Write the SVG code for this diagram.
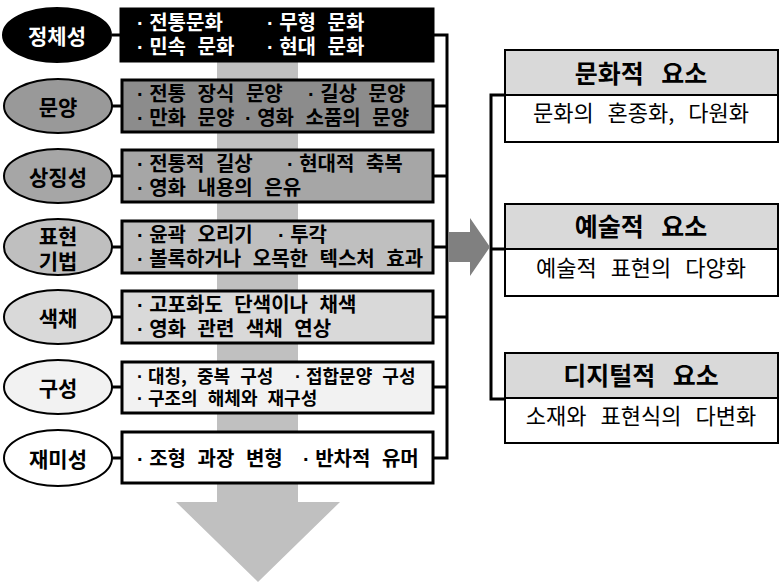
<svg xmlns="http://www.w3.org/2000/svg" width="784" height="586" viewBox="0 0 784 586">
<style>
.ell{stroke:#000;stroke-width:2}
.box{stroke:#000;stroke-width:3}
.lbl{font-family:"Noto Sans CJK KR","Noto Sans",sans-serif;font-weight:bold;font-size:21px;text-anchor:middle;dominant-baseline:central}
.item{font-family:"Noto Sans CJK KR","Noto Sans",sans-serif;font-weight:bold;font-size:20px;word-spacing:7px}
.d{font-family:"Liberation Sans",sans-serif;word-spacing:0}
.hdr{font-family:"Noto Sans CJK KR","Noto Sans",sans-serif;font-weight:bold;font-size:25px;text-anchor:middle;word-spacing:12px}
.body{font-family:"Noto Sans CJK KR","Noto Sans",sans-serif;font-size:22px;text-anchor:middle;word-spacing:9px}
.con{stroke:#000;stroke-width:3;fill:none}
</style>
<rect width="784" height="586" fill="#fff"/>
<g id="flow-arrow">
<polygon points="217,60 298,60 298,502 340,502 258,582 176,502 217,502" fill="#c0c0c0"/>
</g>
<g id="connectors">
<line class="con" x1="112" y1="35" x2="122" y2="35"/>
<line class="con" x1="112" y1="106" x2="122" y2="106"/>
<line class="con" x1="112" y1="176" x2="122" y2="176"/>
<line class="con" x1="112" y1="247" x2="122" y2="247"/>
<line class="con" x1="112" y1="317" x2="122" y2="317"/>
<line class="con" x1="112" y1="387" x2="122" y2="387"/>
<line class="con" x1="112" y1="458" x2="122" y2="458"/>
<polyline class="con" points="433,35 447,35 447,458 433,458"/>
<line class="con" x1="433" y1="106" x2="447" y2="106"/>
<line class="con" x1="433" y1="176" x2="447" y2="176"/>
<line class="con" x1="433" y1="247" x2="447" y2="247"/>
<line class="con" x1="433" y1="317" x2="447" y2="317"/>
<line class="con" x1="433" y1="387" x2="447" y2="387"/>
<polyline class="con" points="505,95 491,95 491,399 505,399"/>
<line class="con" x1="491" y1="249" x2="505" y2="249"/>
<polygon points="449,232 470,232 470,218 490,247 470,276 470,262 449,262" fill="#808080"/>
</g>
<g id="n1">
<ellipse class="ell" cx="57" cy="35" rx="54" ry="27" fill="#000"/>
<text class="lbl" x="57" y="35" fill="#fff">정체성</text>
<rect class="box" x="121" y="9" width="312" height="52" fill="#000"/>
<text class="item" x="137" y="30" fill="#fff"><tspan class="d">· </tspan>전통문화</text>
<text class="item" x="267" y="30" fill="#fff"><tspan class="d">· </tspan>무형 문화</text>
<text class="item" x="137" y="54" fill="#fff"><tspan class="d">· </tspan>민속 문화</text>
<text class="item" x="267" y="54" fill="#fff"><tspan class="d">· </tspan>현대 문화</text>
</g>
<g id="n2">
<ellipse class="ell" cx="58" cy="106" rx="54" ry="27" fill="#999"/>
<text class="lbl" x="58" y="106">문양</text>
<rect class="box" x="122" y="80" width="311" height="52" fill="#8c8c8c"/>
<text class="item" x="137" y="101"><tspan class="d">· </tspan>전통 장식 문양</text>
<text class="item" x="308" y="101"><tspan class="d">· </tspan>길상 문양</text>
<text class="item" x="137" y="125"><tspan class="d">· </tspan>만화 문양</text>
<text class="item" x="245" y="125"><tspan class="d">· </tspan>영화 소품의 문양</text>
</g>
<g id="n3">
<ellipse class="ell" cx="58" cy="176" rx="54" ry="27" fill="#a6a6a6"/>
<text class="lbl" x="58" y="176">상징성</text>
<rect class="box" x="122" y="150" width="311" height="52" fill="#a6a6a6"/>
<text class="item" x="137" y="171"><tspan class="d">· </tspan>전통적 길상</text>
<text class="item" x="287" y="171"><tspan class="d">· </tspan>현대적 축복</text>
<text class="item" x="137" y="195"><tspan class="d">· </tspan>영화 내용의 은유</text>
</g>
<g id="n4">
<ellipse class="ell" cx="58" cy="247" rx="54" ry="28" fill="#bfbfbf"/>
<text class="lbl" x="58" y="235">표현</text>
<text class="lbl" x="58" y="260">기법</text>
<rect class="box" x="122" y="221" width="311" height="52" fill="#bfbfbf"/>
<text class="item" x="137" y="242"><tspan class="d">· </tspan>윤곽 오리기</text>
<text class="item" x="278" y="242"><tspan class="d">· </tspan>투각</text>
<text class="item" x="137" y="266"><tspan class="d">· </tspan>볼록하거나 오목한 텍스처 효과</text>
</g>
<g id="n5">
<ellipse class="ell" cx="58" cy="317" rx="54" ry="27" fill="#d9d9d9"/>
<text class="lbl" x="58" y="317">색채</text>
<rect class="box" x="122" y="291" width="311" height="52" fill="#d9d9d9"/>
<text class="item" x="137" y="312"><tspan class="d">· </tspan>고포화도 단색이나 채색</text>
<text class="item" x="137" y="336"><tspan class="d">· </tspan>영화 관련 색채 연상</text>
</g>
<g id="n6">
<ellipse class="ell" cx="58" cy="387" rx="54" ry="27" fill="#f2f2f2"/>
<text class="lbl" x="58" y="387">구성</text>
<rect class="box" x="122" y="362" width="311" height="51" fill="#f2f2f2"/>
<text class="item" x="137" y="383" style="font-size:18px;word-spacing:6px"><tspan class="d">· </tspan>대칭, 중복 구성</text>
<text class="item" x="295" y="383" style="font-size:18px;word-spacing:6px"><tspan class="d">· </tspan>접합문양 구성</text>
<text class="item" x="137" y="405" style="font-size:18px;word-spacing:6px"><tspan class="d">· </tspan>구조의 해체와 재구성</text>
</g>
<g id="n7">
<ellipse class="ell" cx="58" cy="458" rx="54" ry="28" fill="#fff"/>
<text class="lbl" x="58" y="458">재미성</text>
<rect class="box" x="122" y="432" width="311" height="51" fill="#fff"/>
<text class="item" x="137" y="466"><tspan class="d">· </tspan>조형 과장 변형</text>
<text class="item" x="303" y="466"><tspan class="d">· </tspan>반차적 유머</text>
</g>
<g id="r1">
<rect x="505" y="50" width="273" height="45" fill="#d9d9d9" class="box" style="stroke-width:2"/>
<rect x="505" y="95" width="273" height="47" fill="#fff" class="box" style="stroke-width:2"/>
<text class="hdr" x="641" y="83">문화적 요소</text>
<text class="body" x="641" y="121">문화의 혼종화, 다원화</text>
</g>
<g id="r2">
<rect x="505" y="204" width="273" height="45" fill="#d9d9d9" class="box" style="stroke-width:2"/>
<rect x="505" y="249" width="273" height="47" fill="#fff" class="box" style="stroke-width:2"/>
<text class="hdr" x="641" y="236">예술적 요소</text>
<text class="body" x="641" y="276">예술적 표현의 다양화</text>
</g>
<g id="r3">
<rect x="505" y="353" width="273" height="45" fill="#d9d9d9" class="box" style="stroke-width:2"/>
<rect x="505" y="398" width="273" height="45" fill="#fff" class="box" style="stroke-width:2"/>
<text class="hdr" x="641" y="385">디지털적 요소</text>
<text class="body" x="641" y="424">소재와 표현식의 다변화</text>
</g>
</svg>
